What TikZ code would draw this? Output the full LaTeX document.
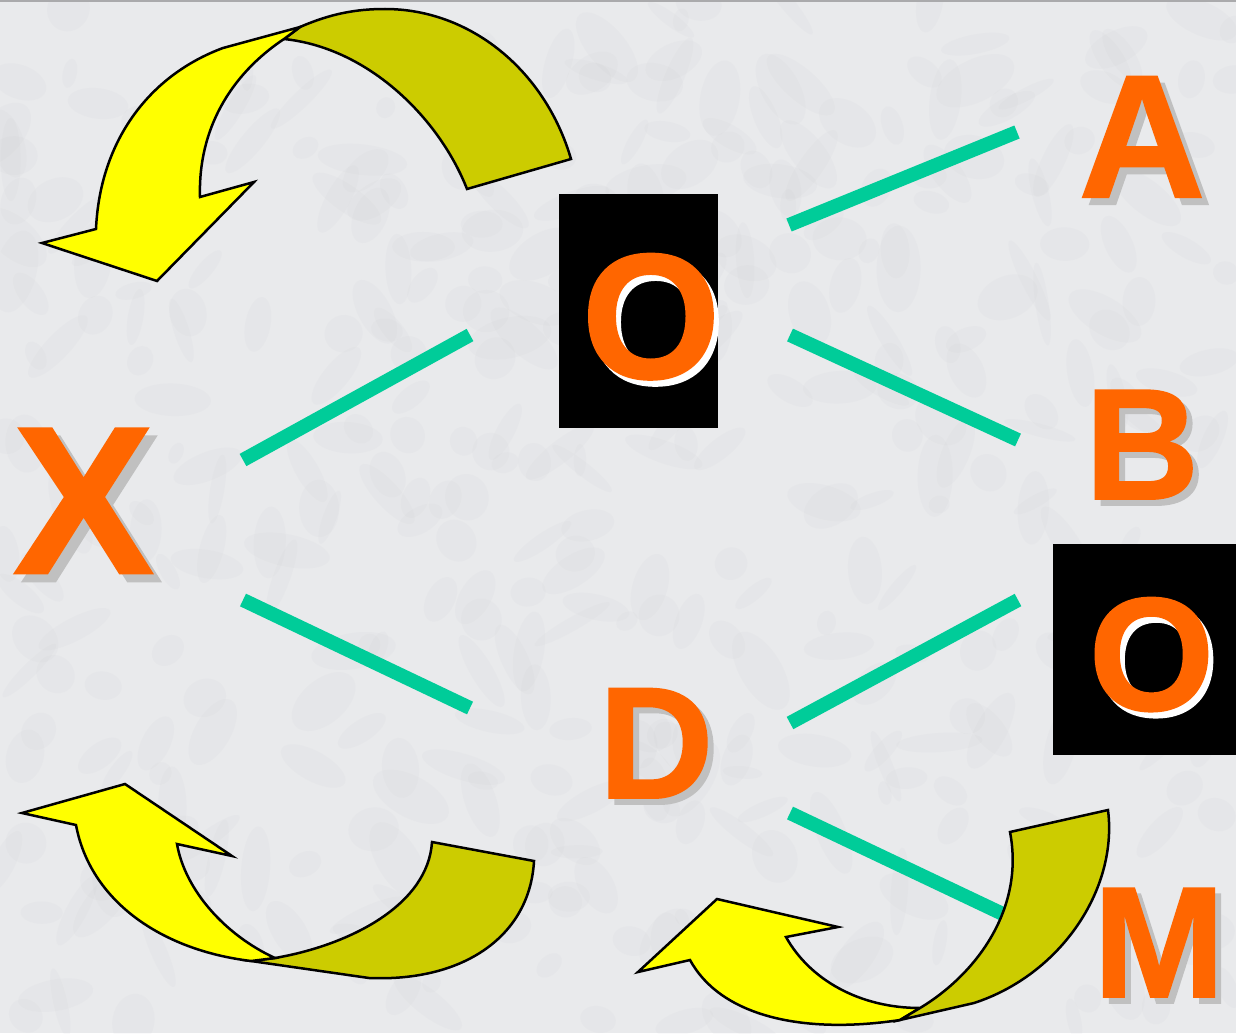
\documentclass[tikz,border=0pt]{standalone}
\usepackage{fontspec}
\newfontfamily\lsb{Liberation Sans Bold}[FakeBold=1.2]
\definecolor{bgmarble}{RGB}{233,234,236}
\definecolor{bgvein}{RGB}{190,191,194}
\definecolor{topedge}{RGB}{170,170,172}
\definecolor{tealline}{RGB}{0,204,153}
\definecolor{letterorange}{RGB}{255,102,0}
\definecolor{shadowgray}{RGB}{192,192,192}
\definecolor{ribbonyellow}{RGB}{255,255,0}
\definecolor{ribbonolive}{RGB}{204,204,0}
\begin{document}
\begin{tikzpicture}[x=1pt,y=-1pt,
  link/.style={draw=tealline,line width=14pt},
  glyph/.style={inner sep=0pt,anchor=base,text=letterorange,font=\lsb\fontsize{#1}{#1}\selectfont},
  glyphshadow/.style={glyph=#1,text=shadowgray},
  glyphwhite/.style={glyph=#1,text=white},
  blackbox/.style={fill=black,draw=none,inner sep=0pt,anchor=north west},
  ribfront/.style={fill=ribbonyellow,draw=black,line width=2.5pt,line join=miter},
  ribback/.style={fill=ribbonolive,draw=black,line width=2.5pt,line join=miter},
  marble/.style={fill=bgvein,opacity=0.07,draw=none}]
\useasboundingbox (0,0) rectangle (1236,1033);
\fill[bgmarble] (0,0) rectangle (1236,1033);
% faint mottled marble texture
\pgfmathsetseed{7}
\foreach \i in {1,...,420}{
  \pgfmathsetmacro{\mx}{rnd*1236}
  \pgfmathsetmacro{\my}{rnd*1033}
  \pgfmathsetmacro{\ma}{10+rnd*35}
  \pgfmathsetmacro{\mb}{6+rnd*16}
  \pgfmathsetmacro{\mr}{rnd*180}
  \fill[marble,rotate around={\mr:(\mx,\my)}] (\mx,\my) ellipse [x radius=\ma, y radius=\mb];
}
\fill[topedge] (0,0) rectangle (1236,2.5);

% connector end points
\coordinate (xo-x) at (243,460);   \coordinate (xo-o) at (470,335);
\coordinate (xd-x) at (243,600);   \coordinate (xd-d) at (470,708);
\coordinate (oa-o) at (789,225);   \coordinate (oa-a) at (1017,132);
\coordinate (ob-o) at (790,335);   \coordinate (ob-b) at (1018,440);
\coordinate (do-d) at (790,723);   \coordinate (do-o) at (1018,600);
\coordinate (dm-d) at (790,813);   \coordinate (dm-m) at (1005,915);

\draw[link] (xo-x) -- (xo-o);
\draw[link] (xd-x) -- (xd-d);
\draw[link] (oa-o) -- (oa-a);
\draw[link] (ob-o) -- (ob-b);
\draw[link] (do-d) -- (do-o);
\draw[link] (dm-d) -- (dm-m);

% top-left curved arrow
\draw[ribback] (284,39) -- (300,27) .. controls (330,14) and (355,9) .. (385,9)
  .. controls (470,9) and (545,70) .. (571,159) -- (467,189)
  .. controls (440,120) and (370,48) .. (284,39) -- cycle;
\draw[ribfront] (284,39) -- (300,27) -- (223,48)
  .. controls (150,75) and (100,140) .. (96,229) -- (42,243) -- (157,281)
  -- (254,182) -- (200,197) .. controls (198,130) and (230,75) .. (284,39) -- cycle;

% bottom-left curved arrow
\draw[ribback] (275,958) .. controls (350,945) and (428,905) .. (432,842)
  -- (534,861) .. controls (530,935) and (465,982) .. (369,978) -- (251,961) -- cycle;
\draw[ribfront] (275,958) .. controls (225,935) and (185,890) .. (177,844)
  -- (232,856) -- (125,784) -- (22,813) -- (76,825)
  .. controls (90,900) and (160,950) .. (251,961) -- cycle;

% bottom-right curved arrow
\draw[ribfront] (920,1008) .. controls (860,1008) and (810,980) .. (786,937)
  -- (838,927) -- (717,899) -- (638,972) -- (690,960)
  .. controls (720,1015) and (800,1035) .. (900,1020) -- cycle;
\draw[ribback] (900,1020) -- (920,1008) .. controls (975,975) and (1025,910) .. (1010,832)
  -- (1108,810) .. controls (1118,890) and (1060,975) .. (974,1003) -- cycle;

% black boxes
\node[blackbox,minimum width=159pt,minimum height=234pt] (box1) at (559,194) {};
\node[blackbox,minimum width=183pt,minimum height=211pt] (box2) at (1053,544) {};

% letters with shadows
\node[glyphshadow=210pt] (X-sh) at (91.5,581) {X};
\node[glyph=210pt] (X) at (83.5,573) {X};
\node[glyphshadow=175pt] (A-sh) at (1149,204) {A};
\node[glyph=175pt] (A) at (1142,197) {A};
\node[glyphshadow=158pt] (B-sh) at (1148,505) {B};
\node[glyph=158pt] (B) at (1142,499) {B};
\node[glyphshadow=159pt] (D-sh) at (662,804) {D};
\node[glyph=159pt] (D) at (656,798) {D};
\node[glyphshadow=158pt] (M-sh) at (1165,1003) {M};
\node[glyph=158pt] (M) at (1159,997) {M};
\node[glyphwhite=178pt] (O1-sh) at (656,384) {O};
\node[glyph=178pt] (O1) at (651,378) {O};
\node[glyphwhite=161pt] (O2-sh) at (1156.5,716) {O};
\node[glyph=161pt] (O2) at (1151.5,710) {O};
\end{tikzpicture}
\end{document}
